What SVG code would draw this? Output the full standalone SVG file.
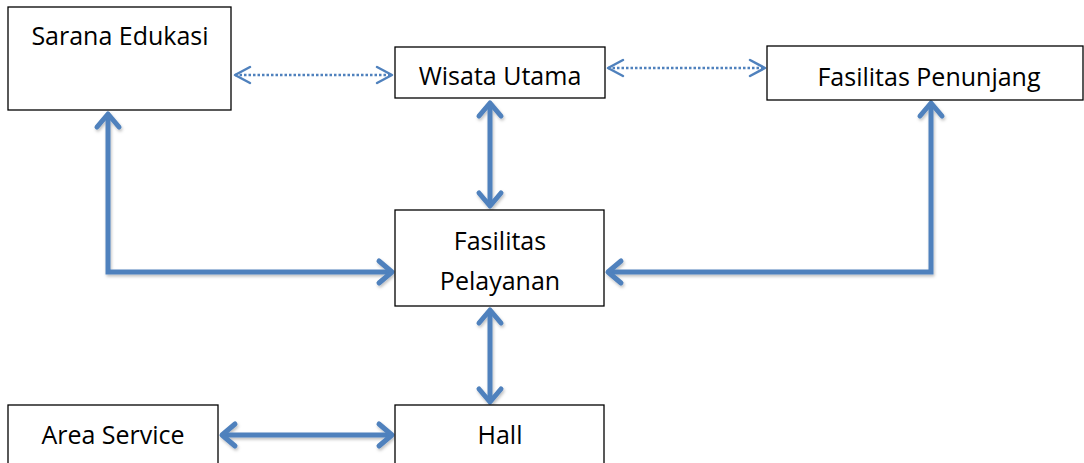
<svg xmlns="http://www.w3.org/2000/svg" width="1084" height="463" viewBox="0 0 1084 463">
<style>
.box{fill:#fff;stroke:#000;stroke-width:1.3}
.t{font-family:"Open Sans","Liberation Sans",Arial,sans-serif;font-size:25px;fill:#000;text-anchor:middle}
.thick{fill:none;stroke:#4f81bd;stroke-width:5;stroke-linejoin:miter}
.dot{fill:none;stroke:#4f81bd;stroke-width:2.5;stroke-dasharray:2.5 2}
.head{fill:none;stroke:#4f81bd;stroke-linecap:round;stroke-linejoin:round}
</style>
<defs>
<marker id="ah" markerUnits="userSpaceOnUse" viewBox="-16 -14 20 28" refX="0" refY="0" markerWidth="20" markerHeight="28" orient="auto-start-reverse" overflow="visible">
<path class="head" d="M-13,-11 L0,0 L-13,11" stroke-width="5"/>
</marker>
<marker id="ad" markerUnits="userSpaceOnUse" viewBox="-16 -12 20 24" refX="0" refY="0" markerWidth="20" markerHeight="24" orient="auto-start-reverse" overflow="visible">
<path class="head" d="M-15,-8 L0,0 L-15,8" stroke-width="2.5"/>
</marker>
<filter id="sh" filterUnits="userSpaceOnUse" x="0" y="0" width="1084" height="463">
<feDropShadow dx="1" dy="2" stdDeviation="1.5" flood-color="#000" flood-opacity="0.25"/>
</filter>
</defs>
<g id="connectors">
<path class="dot" d="M235,75 H392" marker-start="url(#ad)" marker-end="url(#ad)"/>
<path class="dot" d="M608,68 H765" marker-start="url(#ad)" marker-end="url(#ad)"/>
<g filter="url(#sh)">
<path class="thick" d="M490,103 V206" marker-start="url(#ah)" marker-end="url(#ah)"/>
<path class="thick" d="M108,114 V272 H392" marker-start="url(#ah)" marker-end="url(#ah)"/>
<path class="thick" d="M931,103 V272 H608" marker-start="url(#ah)" marker-end="url(#ah)"/>
<path class="thick" d="M490,310 V402" marker-start="url(#ah)" marker-end="url(#ah)"/>
<path class="thick" d="M222,435 H392" marker-start="url(#ah)" marker-end="url(#ah)"/>
</g>
</g>
<g id="sarana-edukasi">
<rect class="box" x="8" y="7" width="223" height="103"/>
<text class="t" x="120" y="45">Sarana Edukasi</text>
</g>
<g id="wisata-utama">
<rect class="box" x="395" y="47" width="210" height="51"/>
<text class="t" x="500" y="85">Wisata Utama</text>
</g>
<g id="fasilitas-penunjang">
<rect class="box" x="767" y="46" width="316" height="54"/>
<text class="t" x="929" y="86">Fasilitas Penunjang</text>
</g>
<g id="fasilitas-pelayanan">
<rect class="box" x="395" y="210" width="209" height="96"/>
<text class="t" x="500" y="250">Fasilitas</text>
<text class="t" x="500" y="290">Pelayanan</text>
</g>
<g id="area-service">
<rect class="box" x="8" y="405" width="210" height="62"/>
<text class="t" x="113" y="444">Area Service</text>
</g>
<g id="hall">
<rect class="box" x="395" y="405" width="209" height="62"/>
<text class="t" x="500" y="444">Hall</text>
</g>
</svg>
